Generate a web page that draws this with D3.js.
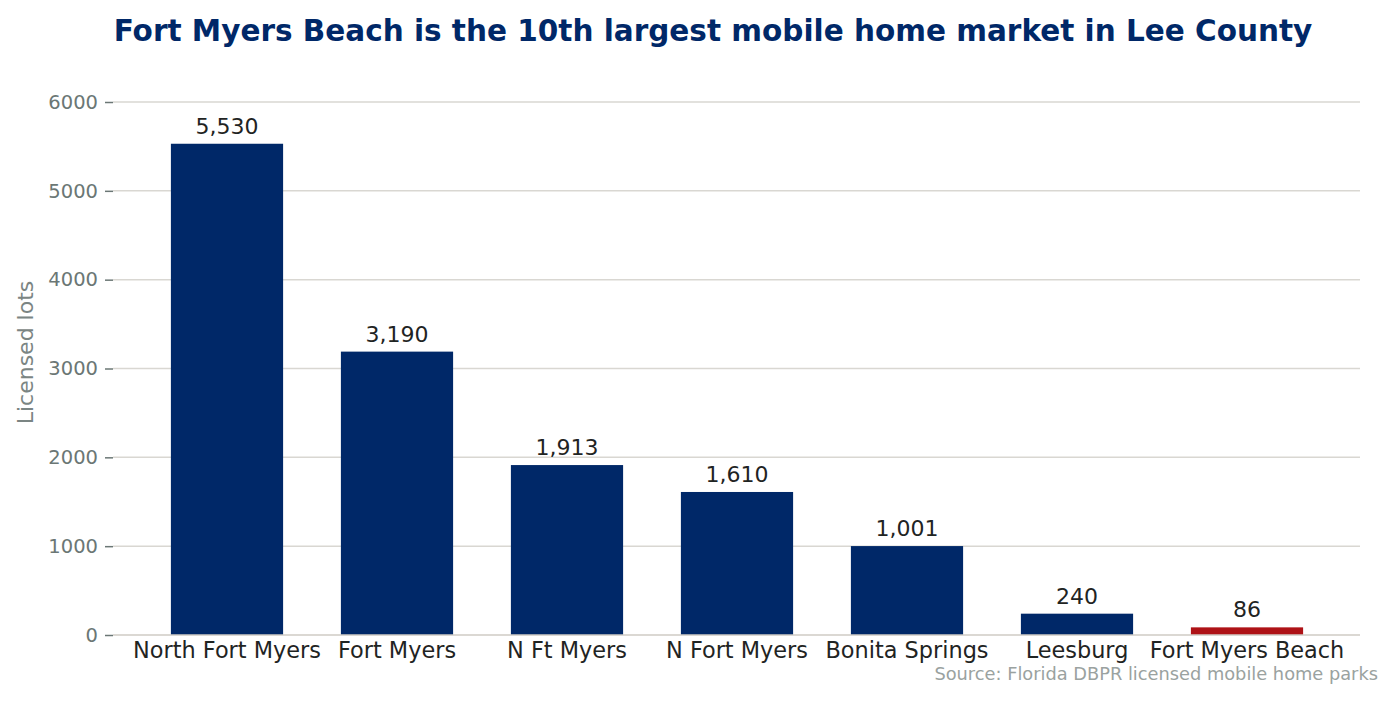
<!DOCTYPE html>
<html>
<head>
<meta charset="utf-8">
<script src="https://d3js.org/d3.v7.min.js"></script>
<style>
  body { margin: 0; background: #fff; }
  text { font-family: "DejaVu Sans", sans-serif; }
</style>
</head>
<body>
<div id="chart"></div>
<script>
const categories = ["North Fort Myers", "Fort Myers", "N Ft Myers", "N Fort Myers", "Bonita Springs", "Leesburg", "Fort Myers Beach"];
const lots = [5530, 3190, 1913, 1610, 1001, 240, 86];
const highlight = "Fort Myers Beach";
const yTicks = [0, 1000, 2000, 3000, 4000, 5000, 6000];

const width = 1395, height = 701;
const plotLeft = 113, plotRight = 1360, plotTop = 102, plotBottom = 635;

const svg = d3.select("#chart").append("svg")
    .attr("width", width)
    .attr("height", height);

const x = d3.scaleBand()
    .domain(categories)
    .range([142, 1332])
    .paddingInner(0.34)
    .paddingOuter(0.17);

const y = d3.scaleLinear()
    .domain([0, 6000])
    .range([plotBottom, plotTop]);

// gridlines
svg.append("g")
    .selectAll("line")
    .data(yTicks.filter(d => d > 0))
    .enter()
    .append("line")
    .attr("x1", plotLeft).attr("x2", plotRight)
    .attr("y1", d => y(d)).attr("y2", d => y(d))
    .style("stroke", "#d9d7d2")
    .style("stroke-width", 1.5);

// y axis
const yAxis = svg.append("g")
    .attr("transform", `translate(${plotLeft},0)`)
    .call(d3.axisLeft(y).tickValues(yTicks).tickSize(8).tickPadding(7).tickFormat(d3.format("d")));
yAxis.select(".domain").remove();
yAxis.selectAll(".tick line").style("stroke", "#6b7775").style("stroke-width", 1.5);
yAxis.selectAll(".tick text")
    .style("font-size", "19.5px")
    .style("fill", "#6b7775");

// bars
svg.append("g")
    .selectAll("rect")
    .data(categories)
    .enter()
    .append("rect")
    .attr("x", d => x(d))
    .attr("width", x.bandwidth())
    .attr("y", (d, i) => y(lots[i]))
    .attr("height", (d, i) => y(0) - y(lots[i]))
    .style("fill", d => d === highlight ? "#ae1216" : "#002868");

// value labels
svg.append("g")
    .selectAll("text")
    .data(categories)
    .enter()
    .append("text")
    .attr("x", d => x(d) + x.bandwidth() / 2)
    .attr("y", (d, i) => y(lots[i]) - 10)
    .attr("text-anchor", "middle")
    .style("font-size", "22px")
    .style("fill", "#1f2423")
    .text((d, i) => d3.format(",")(lots[i]));

// x axis
const xAxis = svg.append("g")
    .attr("transform", `translate(0,${plotBottom})`)
    .call(d3.axisBottom(x).tickSize(0).tickPadding(7));
xAxis.select(".domain").remove();
xAxis.selectAll(".tick text")
    .attr("dy", "0.71em")
    .style("font-size", "22.4px")
    .style("fill", "#1f2423");
svg.append("line")
    .attr("x1", plotLeft).attr("x2", plotRight)
    .attr("y1", plotBottom).attr("y2", plotBottom)
    .style("stroke", "#cfcbc4")
    .style("stroke-width", 1.5);

// title
svg.append("text")
    .attr("x", 713).attr("y", 41)
    .attr("text-anchor", "middle")
    .style("font-size", "29.5px")
    .style("font-weight", "bold")
    .style("fill", "#002868")
    .text("Fort Myers Beach is the 10th largest mobile home market in Lee County");

// y label
svg.append("text")
    .attr("transform", `translate(33,${(plotTop + plotBottom) / 2 - 16}) rotate(-90)`)
    .attr("text-anchor", "middle")
    .style("font-size", "22px")
    .style("fill", "#7b8583")
    .text("Licensed lots");

// source
svg.append("text")
    .attr("x", 1378).attr("y", 680)
    .attr("text-anchor", "end")
    .style("font-size", "17.8px")
    .style("fill", "#9aa2a0")
    .text("Source: Florida DBPR licensed mobile home parks");
</script>
</body>
</html>
